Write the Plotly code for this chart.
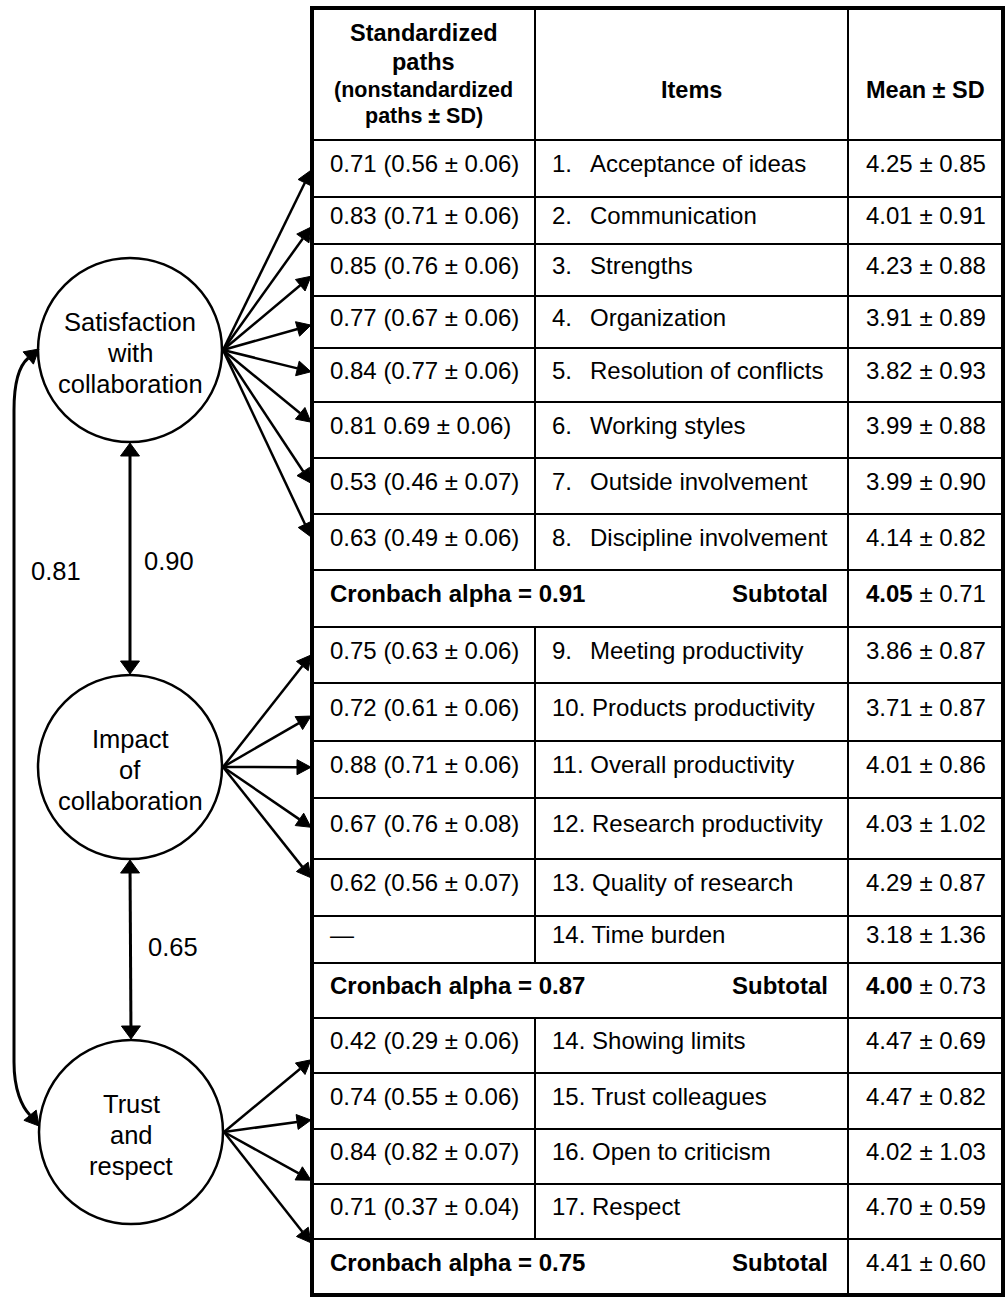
import math
import plotly.graph_objects as go

# ---------------- DATA ----------------
latent_labels = [["Satisfaction", "with", "collaboration"],
                 ["Impact", "of", "collaboration"],
                 ["Trust", "and", "respect"]]

sat_numbers = [1, 2, 3, 4, 5, 6, 7, 8]
sat_items = ["Acceptance of ideas", "Communication", "Strengths", "Organization",
             "Resolution of conflicts", "Working styles", "Outside involvement",
             "Discipline involvement"]
sat_paths = ["0.71 (0.56 ± 0.06)", "0.83 (0.71 ± 0.06)", "0.85 (0.76 ± 0.06)",
             "0.77 (0.67 ± 0.06)", "0.84 (0.77 ± 0.06)", "0.81 0.69 ± 0.06)",
             "0.53 (0.46 ± 0.07)", "0.63 (0.49 ± 0.06)"]
sat_means = [4.25, 4.01, 4.23, 3.91, 3.82, 3.99, 3.99, 4.14]
sat_sds = [0.85, 0.91, 0.88, 0.89, 0.93, 0.88, 0.90, 0.82]

imp_numbers = [9, 10, 11, 12, 13, 14]
imp_items = ["Meeting productivity", "Products productivity", "Overall productivity",
             "Research productivity", "Quality of research", "Time burden"]
imp_paths = ["0.75 (0.63 ± 0.06)", "0.72 (0.61 ± 0.06)", "0.88 (0.71 ± 0.06)",
             "0.67 (0.76 ± 0.08)", "0.62 (0.56 ± 0.07)", "—"]
imp_means = [3.86, 3.71, 4.01, 4.03, 4.29, 3.18]
imp_sds = [0.87, 0.87, 0.86, 1.02, 0.87, 1.36]

tru_numbers = [14, 15, 16, 17]
tru_items = ["Showing limits", "Trust colleagues", "Open to criticism", "Respect"]
tru_paths = ["0.42 (0.29 ± 0.06)", "0.74 (0.55 ± 0.06)", "0.84 (0.82 ± 0.07)",
             "0.71 (0.37 ± 0.04)"]
tru_means = [4.47, 4.47, 4.02, 4.70]
tru_sds = [0.69, 0.82, 1.03, 0.59]

cronbach_alpha = [0.91, 0.87, 0.75]
subtotal_means = [4.05, 4.00, 4.41]
subtotal_sds = [0.71, 0.73, 0.60]
subtotal_bold = [True, True, False]

corr_sat_imp = 0.90
corr_imp_tru = 0.65
corr_sat_tru = 0.81

header_col1 = ["Standardized", "paths", "(nonstandardized", "paths ± SD)"]
header_col2 = "Items"
header_col3 = "Mean ± SD"

# ---------------- LAYOUT ----------------
W, H = 1008, 1302
FONT = "Liberation Sans, Arial, Helvetica, sans-serif"
TL, TR = 312, 1003          # table left / right
C1, C2 = 535, 848           # column dividers
bounds = [8, 140, 197, 244, 296, 348, 402, 458, 514, 570, 627, 683, 741, 798,
          859, 916, 963, 1018, 1073, 1129, 1184, 1239, 1295]
circ_cx = [130, 130, 131]
circ_cy = [350, 767, 1132]
circ_r = 92
tip_frac = [[0.53, 0.64, 0.62, 0.56, 0.44, 0.36, 0.45, 0.41],
            [0.50, 0.57, 0.46, 0.48, 0.33],
            [0.76, 0.84, 0.93, 1.07]]
TEXT_DY = -5
PAD = 2   # annotation box padding compensation

fig = go.Figure()
fig.add_trace(go.Scatter(x=[], y=[], mode="markers", showlegend=False))
shapes = []
ann = []


def text(x, y, s, size=24, anchor="left", bold=False):
    if bold:
        s = "<b>" + s + "</b>"
    if anchor == "left":
        x -= PAD
    elif anchor == "right":
        x += PAD
    ann.append(dict(x=x, y=y, xref="x", yref="y", text=s, showarrow=False,
                    xanchor=anchor, yanchor="middle",
                    font=dict(family=FONT, size=size, color="black")))


def line(x0, y0, x1, y1, w=2.5):
    shapes.append(dict(type="line", x0=x0, y0=y0, x1=x1, y1=y1, xref="x", yref="y",
                       line=dict(color="black", width=w)))


def head(tx, ty, fx, fy, L=14, Wd=16):
    dx, dy = tx - fx, ty - fy
    n = math.hypot(dx, dy)
    ux, uy = dx / n, dy / n
    bx, by = tx - L * ux, ty - L * uy
    px, py = -uy * Wd / 2, ux * Wd / 2
    path = f"M {tx},{ty} L {bx+px},{by+py} L {bx-px},{by-py} Z"
    shapes.append(dict(type="path", path=path, xref="x", yref="y",
                       fillcolor="black", line=dict(color="black", width=1)))
    return bx, by


def arrow(x0, y0, x1, y1, L=14, Wd=16, both=False, w=2.5):
    bx, by = head(x1, y1, x0, y0, L, Wd)
    sx, sy = x0, y0
    if both:
        sx, sy = head(x0, y0, x1, y1, L, Wd)
    line(sx, sy, bx, by, w)


# ---------------- TABLE GRID ----------------
groups = [
    dict(numbers=sat_numbers, items=sat_items, paths=sat_paths, means=sat_means, sds=sat_sds),
    dict(numbers=imp_numbers, items=imp_items, paths=imp_paths, means=imp_means, sds=imp_sds),
    dict(numbers=tru_numbers, items=tru_items, paths=tru_paths, means=tru_means, sds=tru_sds),
]

kinds = []
for g in groups:
    kinds += ["item"] * len(g["items"])
    kinds += ["sub"]

for b in bounds[1:-1]:
    line(TL, b, TR, b, 2)
line(C2, bounds[0], C2, bounds[-1], 2)
line(C1, bounds[0], C1, bounds[1], 2)
for i, k in enumerate(kinds):
    if k == "item":
        line(C1, bounds[i + 1], C1, bounds[i + 2], 2)
shapes.append(dict(type="rect", x0=TL, y0=bounds[0], x1=TR, y1=bounds[-1],
                   xref="x", yref="y", line=dict(color="black", width=4)))

# header
c1x = (TL + C1) / 2
hdr_y = [33, 62, 90, 116]
hdr_sz = [23.5, 23.5, 21.5, 21.5]
for s, y, sz in zip(header_col1, hdr_y, hdr_sz):
    text(c1x, y, s, sz, "center", True)
text((C1 + C2) / 2, 90, header_col2, 23.5, "center", True)
text((C2 + TR) / 2, 90, header_col3, 23.5, "center", True)

# body
r = 0
for gi, g in enumerate(groups):
    tips = []
    for j in range(len(g["items"])):
        top, bot = bounds[r + 1], bounds[r + 2]
        cy = (top + bot) / 2 + TEXT_DY
        text(330, cy, g["paths"][j])
        num = g["numbers"][j]
        if num < 10:
            text(552, cy, f"{num}.")
            text(590, cy, g["items"][j])
        else:
            text(552, cy, f"{num}. {g['items'][j]}")
        text((C2 + TR) / 2, cy, f"{g['means'][j]:.2f} ± {g['sds'][j]:.2f}", 24, "center")
        if g["paths"][j] != "—":
            tips.append(top + tip_frac[gi][len(tips)] * (bot - top))
        r += 1
    top, bot = bounds[r + 1], bounds[r + 2]
    cy = (top + bot) / 2 + TEXT_DY
    text(330, cy, f"Cronbach alpha = {cronbach_alpha[gi]:.2f}", 24, "left", True)
    text(828, cy, "Subtotal", 24, "right", True)
    m = f"{subtotal_means[gi]:.2f}"
    if subtotal_bold[gi]:
        m = "<b>" + m + "</b>"
    text((C2 + TR) / 2, cy, f"{m} ± {subtotal_sds[gi]:.2f}", 24, "center")
    r += 1
    ox, oy = circ_cx[gi] + circ_r + 1, circ_cy[gi]
    for ty in tips:
        arrow(ox, oy, TL - 1, ty, L=14, Wd=15)

# ---------------- LATENT CIRCLES ----------------
for cx, cy, labels in zip(circ_cx, circ_cy, latent_labels):
    shapes.append(dict(type="circle", x0=cx - circ_r, x1=cx + circ_r,
                       y0=cy - circ_r, y1=cy + circ_r, xref="x", yref="y",
                       line=dict(color="black", width=2.5)))
    for k, s in enumerate(labels):
        text(cx, cy + 3 + (k - 1) * 31, s, 25.5, "center")

arrow(circ_cx[0], circ_cy[0] + circ_r + 1, circ_cx[1], circ_cy[1] - circ_r - 1,
      L=13, Wd=19, both=True, w=3)
text(144, 561, f"{corr_sat_imp:.2f}", 25.5)
arrow(circ_cx[1], circ_cy[1] + circ_r + 1, circ_cx[2], circ_cy[2] - circ_r - 1,
      L=13, Wd=19, both=True, w=3)
text(148, 947, f"{corr_imp_tru:.2f}", 25.5)

bx1, by1 = head(39, 349, 39 - 0.766, 349 + 0.643, L=14, Wd=16)
bx2, by2 = head(39, 1126, 39 - 0.64, 1126 - 0.77, L=14, Wd=16)
path = (f"M {bx1},{by1} C 20,365 14,380 14,410 L 14,1062 "
        f"C 14,1090 22,1107 {bx2},{by2}")
shapes.append(dict(type="path", path=path, xref="x", yref="y",
                   line=dict(color="black", width=3)))
text(31, 571, f"{corr_sat_tru:.2f}", 25.5)

fig.update_layout(
    width=W, height=H, autosize=False,
    margin=dict(l=0, r=0, t=0, b=0),
    paper_bgcolor="white", plot_bgcolor="white",
    xaxis=dict(range=[0, W], visible=False, fixedrange=True),
    yaxis=dict(range=[H, 0], visible=False, fixedrange=True),
    shapes=shapes, annotations=ann, showlegend=False,
)
# remove the default 8px body margin so the figure fills the window exactly
fig.write_html("out.html",
               post_script="document.body.style.margin='0';"
                           "document.body.style.overflow='hidden';",
               config={"displayModeBar": False})
